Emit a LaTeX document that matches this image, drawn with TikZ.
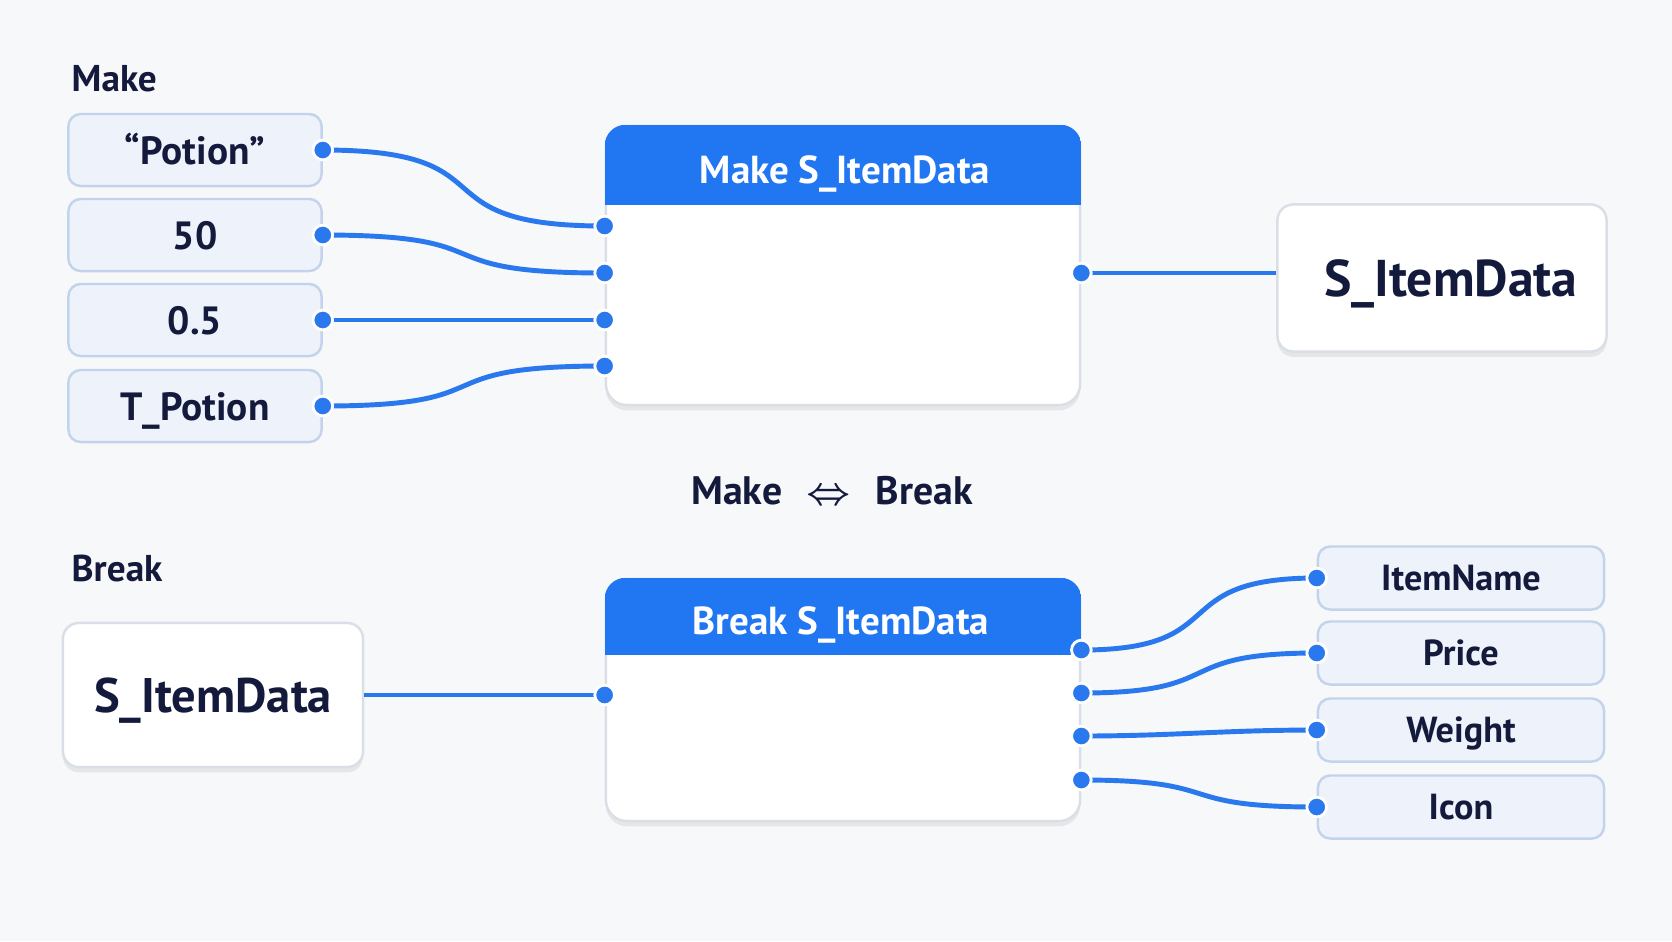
\documentclass[tikz,border=0pt]{standalone}
\usepackage{fontspec}
\setmainfont{PT Sans}
\usetikzlibrary{shadows}

\definecolor{bgcol}{HTML}{F7F8FA}
\definecolor{hdrblue}{HTML}{2176F2}
\definecolor{wireblue}{HTML}{2A78EE}
\definecolor{inkcol}{HTML}{141A3C}
\definecolor{boxfill}{HTML}{EEF3FB}
\definecolor{boxline}{HTML}{C4D3EC}
\definecolor{cardline}{HTML}{DADFE7}

\tikzset{
  valbox/.style={draw=boxline, fill=boxfill, line width=0.7pt, rounded corners=3.5pt,
    minimum width=2.53cm, minimum height=0.72cm, text=inkcol,
    font=\bfseries\fontsize{11.2}{13}\selectfont, text height=8pt, text depth=0pt},
  fieldbox/.style={valbox, minimum width=2.86cm, minimum height=0.63cm,
    font=\bfseries\fontsize{10.3}{12}\selectfont, text height=7.2pt},
  card/.style={draw=cardline, fill=white, line width=0.7pt, rounded corners=4.5pt,
    drop shadow={shadow xshift=0pt, shadow yshift=-1.5pt, opacity=0.07, fill=black},
    text=inkcol, text depth=0pt},
  funcnode/.style={draw=cardline, fill=white, line width=0.7pt, rounded corners=6pt,
    drop shadow={shadow xshift=0pt, shadow yshift=-1.5pt, opacity=0.07, fill=black},
    minimum width=4.74cm},
  functitle/.style={text=white, font=\bfseries\fontsize{11.1}{14}\selectfont, anchor=base},
  seclabel/.style={text=inkcol, font=\bfseries\fontsize{10.6}{13}\selectfont, anchor=base west, inner sep=0pt},
  wire/.style={draw=wireblue, line width=1.4pt, out=0, in=180},
  portdot/.style={fill=wireblue, draw=white, line width=0.8pt}
}

\begin{document}
\begin{tikzpicture}[x=0.01cm, y=-0.01cm]
  % page
  \fill[bgcol] (0,0) rectangle (1672,941);
  \useasboundingbox (0,0) rectangle (1672,941);

  % Make part
  \node[seclabel] (mkl) at (71,91) {Make};
  \node[valbox] (pot) at (195,150) {“Potion”};
  \node[valbox] (n50) at (195,235) {50};
  \node[valbox] (n05) at (195,320) {0.5};
  \node[valbox] (tpo) at (195,406) {T\_Potion};

  \node[funcnode, minimum height=2.79cm] (mk) at (843,265.5) {};
  \begin{scope}
    \clip[rounded corners=6pt] (mk.south west) rectangle (mk.north east);
    \fill[hdrblue] (mk.north west) rectangle (mk.east |- 0,205);
  \end{scope}
  \node[functitle] (mkt) at (845,183) {Make S\_ItemData};

  \node[card, minimum width=3.29cm, minimum height=1.47cm,
        font=\bfseries\fontsize{14.7}{17}\selectfont, text height=10.3pt] (sid) at (1442,278) {\hspace{5pt}S\_ItemData};

  \coordinate (mi1) at (mk.west |- 0,226);
  \coordinate (mi2) at (mk.west |- 0,273);
  \coordinate (mi3) at (mk.west |- n05.east);
  \coordinate (mi4) at (mk.west |- 0,366);
  \coordinate (mo) at (mk.east |- 0,273);

  \draw[wire, looseness=1.7] (pot.east) to (mi1);
  \draw[wire, looseness=1.7] (n50.east) to (mi2);
  \draw[wire] (n05.east) to (mi3);
  \draw[wire, looseness=1.7] (tpo.east) to (mi4);
  \draw[wire] (mo) -- (mo -| sid.west);

  % Make <=> Break
  \node[text=inkcol, font=\bfseries\fontsize{11.3}{14}\selectfont, anchor=base] (mb) at (832,504)
    {Make\hspace{7pt}{\boldmath$\Leftrightarrow$}\hspace{7pt}Break};

  % Break part
  \node[seclabel] (bkl) at (71,581) {Break};
  \node[card, minimum width=3.0cm, minimum height=1.44cm,
        font=\bfseries\fontsize{13.8}{16}\selectfont, text height=9.7pt] (sil) at (213,695) {S\_ItemData};

  \node[funcnode, minimum height=2.42cm] (bk) at (843,700) {};
  \begin{scope}
    \clip[rounded corners=6pt] (bk.south west) rectangle (bk.north east);
    \fill[hdrblue] (bk.north west) rectangle (bk.east |- 0,655);
  \end{scope}
  \node[functitle] (bkt) at (841,634) {Break S\_ItemData};

  \node[fieldbox] (inm) at (1461,578) {ItemName};
  \node[fieldbox] (prc) at (1461,653) {Price};
  \node[fieldbox] (wgt) at (1461,730) {Weight};
  \node[fieldbox] (icn) at (1461,807) {Icon};

  \coordinate (bi) at (bk.west |- sil.east);
  \coordinate (bo1) at (bk.east |- 0,650);
  \coordinate (bo2) at (bk.east |- 0,693);
  \coordinate (bo3) at (bk.east |- 0,736);
  \coordinate (bo4) at (bk.east |- 0,780);

  \draw[wire] (sil.east) -- (bi);
  \draw[wire, looseness=1.6] (bo1) to (inm.west);
  \draw[wire, looseness=1.6] (bo2) to (prc.west);
  \draw[wire] (bo3) to (wgt.west);
  \draw[wire, looseness=1.6] (bo4) to (icn.west);

  % ports
  \foreach \p in {pot.east, n50.east, n05.east, tpo.east, mi1, mi2, mi3, mi4, mo,
                  bi, bo1, bo2, bo3, bo4, inm.west, prc.west, wgt.west, icn.west}
    \filldraw[portdot] (\p) circle (2.8pt);
\end{tikzpicture}
\end{document}
